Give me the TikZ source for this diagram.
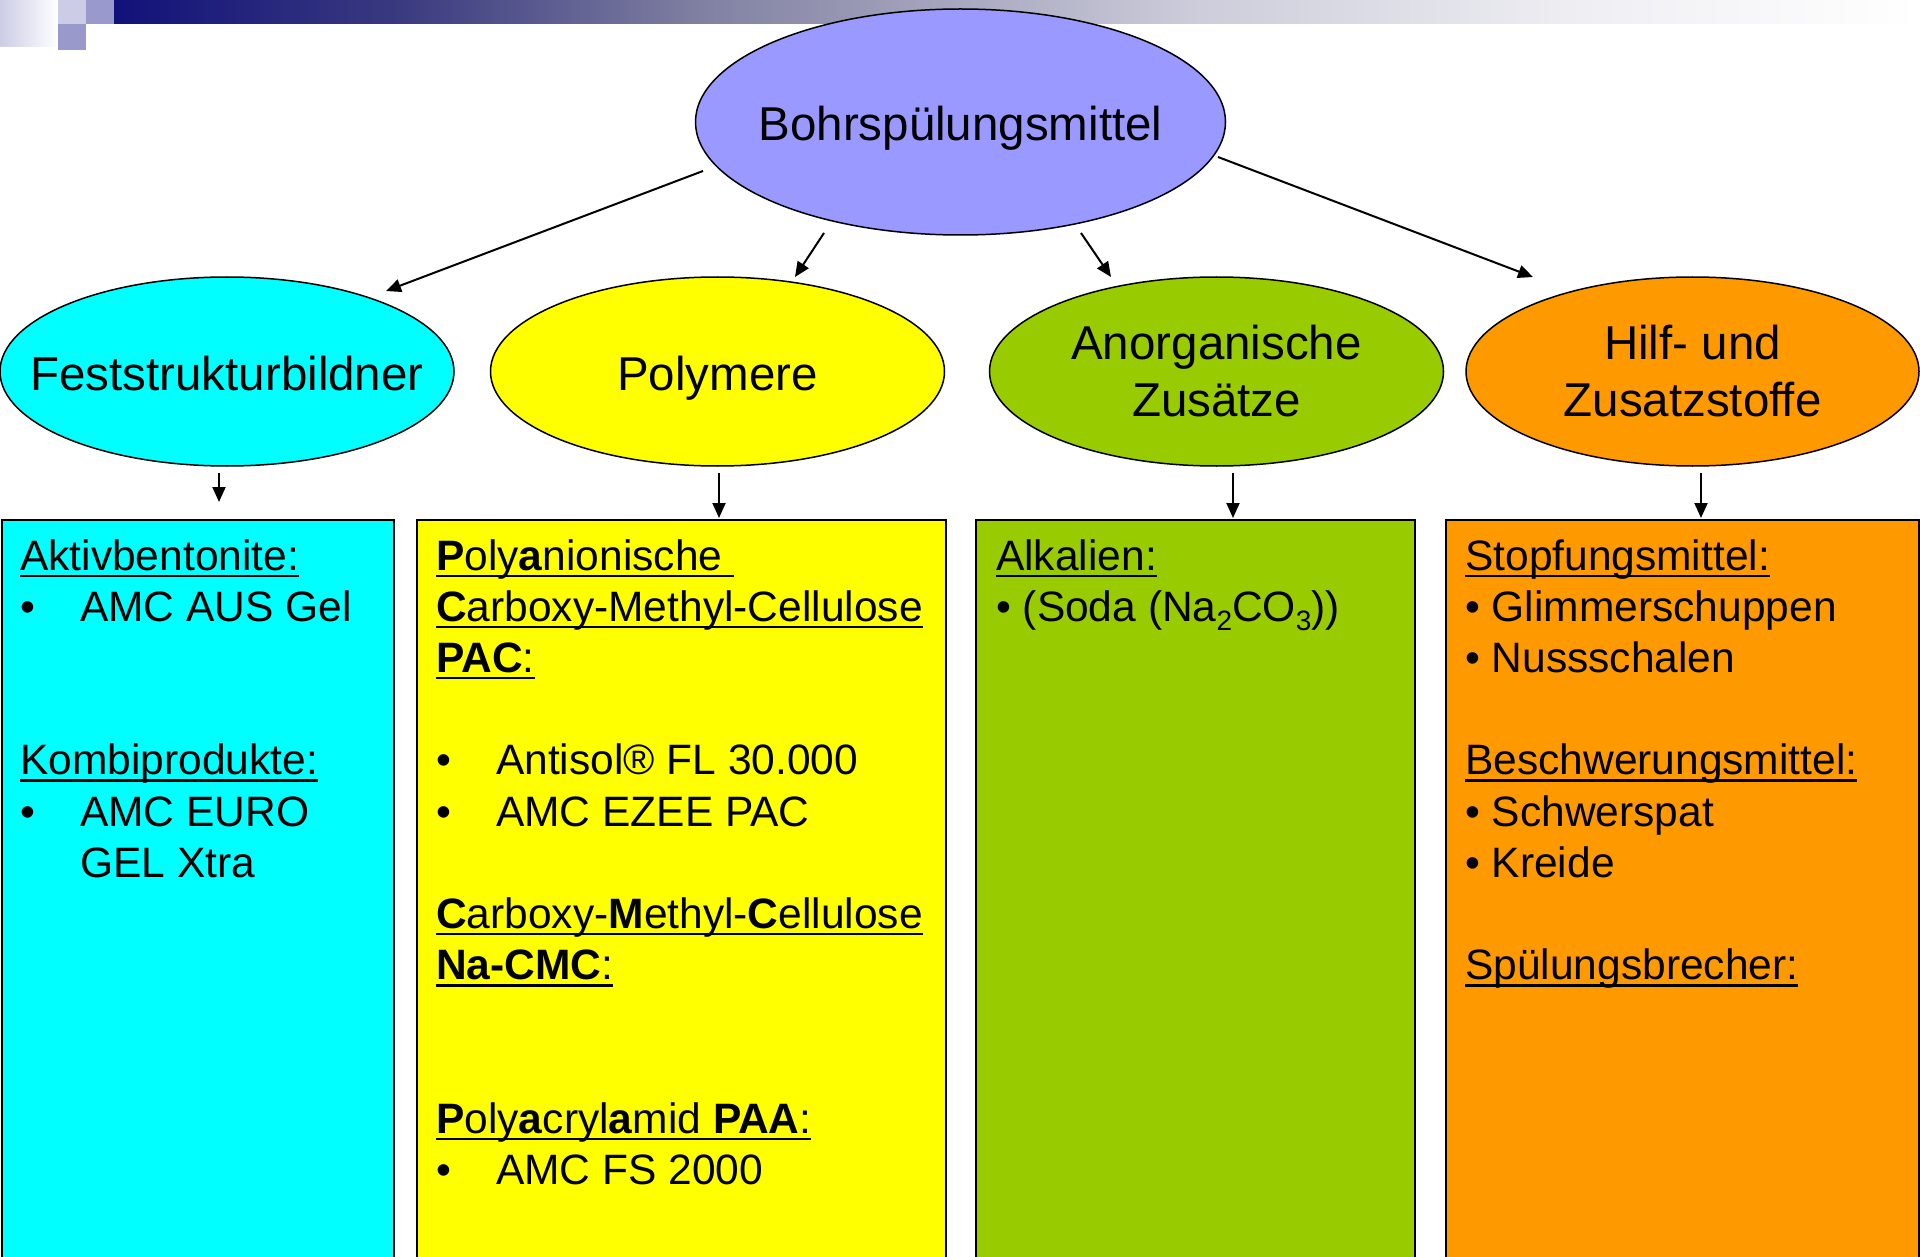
\documentclass[tikz,border=0pt]{standalone}
\usepackage{fontspec}
\setmainfont{Liberation Sans}
\usetikzlibrary{shapes.geometric,arrows.meta}
\definecolor{cTop}{RGB}{153,153,255}
\definecolor{cCyan}{RGB}{0,255,255}
\definecolor{cYel}{RGB}{255,255,0}
\definecolor{cGrn}{RGB}{153,204,0}
\definecolor{cOra}{RGB}{255,153,0}
\definecolor{cLav}{RGB}{204,204,230}
\definecolor{cMed}{RGB}{153,153,204}
\definecolor{gA}{RGB}{17,17,122}
\definecolor{gB}{RGB}{58,58,128}
\definecolor{gC}{RGB}{128,128,162}
\definecolor{gD}{RGB}{205,205,219}
\definecolor{gE}{RGB}{240,240,244}
\newsavebox\ulbox
\newcommand\myul[1]{\leavevmode\sbox\ulbox{#1}\rlap{\rule[-7pt]{\wd\ulbox}{2.5pt}}\usebox\ulbox}
\newcommand\subs[1]{\raisebox{-9.5pt}{\fontsize{28}{28}\selectfont #1}}
\newcommand\tabb{\leavevmode\makebox[60pt][l]{•}}
\newcommand\bul{•\ }
\newcommand\boxfont{\fontsize{42.5}{51.2}\selectfont}
\newcommand\zw[1]{\makebox[0pt][c]{#1}}
\tikzset{
  ell/.style={ellipse, draw, line width=1.5pt, inner sep=0pt, align=center,
    font=\fontsize{47.5}{57}\selectfont},
  oneline/.style={text height=37pt, text depth=0pt},
  colbox/.style={rectangle, draw, line width=2pt, anchor=north west, inner sep=0pt,
    minimum height=800pt},
  boxtxt/.style={anchor=base west, inner sep=0pt},
  arr/.style={line width=2pt, -{Triangle[length=15pt,width=13pt]}}
}
\begin{document}
\begin{tikzpicture}[x=1pt,y=-1pt]
\useasboundingbox (0,0) rectangle (1920,1257);
\clip (0,0) rectangle (1920,1257);
\fill[white] (0,0) rectangle (1920,1257);
% header decoration
\shade[left color=cLav, right color=white] (0,0) rectangle (58,47);
\fill[cLav] (58,0) rectangle (86,24);
\fill[cMed] (86,0) rectangle (114,24);
\fill[cMed] (58,24) rectangle (86,50);
\shade[left color=gA, right color=gB] (114,0) rectangle (400.5,24);
\shade[left color=gB, right color=gC] (400,0) rectangle (700.5,24);
\shade[left color=gC, right color=gD] (700,0) rectangle (1200.5,24);
\shade[left color=gD, right color=gE] (1200,0) rectangle (1600.5,24);
\shade[left color=gE, right color=white] (1600,0) rectangle (1920,24);
% boxes
\node[colbox, fill=cCyan, minimum width=392pt] (b1) at (1,519) {};
\node[colbox, fill=cYel, minimum width=529pt] (b2) at (416,519) {};
\node[colbox, fill=cGrn, minimum width=439pt] (b3) at (975,519) {};
\node[colbox, fill=cOra, minimum width=473pt] (b4) at (1445,519) {};
% box texts
\node[boxtxt] (t1) at (20,570) {\parbox[t]{380pt}{\boxfont
\myul{Aktivbentonite:}\par
\tabb AMC AUS Gel\par
\mbox{}\par
\mbox{}\par
\myul{Kombiprodukte:}\par
\tabb AMC EURO\par
\hspace*{60pt}GEL Xtra}};
\node[boxtxt] (t2) at (436,570) {\parbox[t]{520pt}{\boxfont
\myul{\textbf{P}oly\textbf{a}nionische\ }\par
\myul{\textbf{C}arboxy-Methyl-Cellulose}\par
\myul{\textbf{PAC}:}\par
\mbox{}\par
\tabb Antisol® FL 30.000\par
\tabb AMC EZEE PAC\par
\mbox{}\par
\myul{\textbf{C}arboxy-\textbf{M}ethyl-\textbf{C}ellulose}\par
\myul{\textbf{Na-CMC}:}\par
\mbox{}\par
\mbox{}\par
\myul{\textbf{P}oly\textbf{a}cryl\textbf{a}mid \textbf{PAA}:}\par
\tabb AMC FS 2000}};
\node[boxtxt] (t3) at (996,570) {\parbox[t]{420pt}{\boxfont
\myul{Alkalien:}\par
\bul(Soda (Na\subs{2}CO\subs{3}))}};
\node[boxtxt] (t4) at (1465,570) {\parbox[t]{450pt}{\boxfont
\myul{Stopfungsmittel:}\par
\bul Glimmerschuppen\par
\bul Nussschalen\par
\mbox{}\par
\myul{Beschwerungsmittel:}\par
\bul Schwerspat\par
\bul Kreide\par
\mbox{}\par
\myul{Spülungsbrecher:}}};
% ellipses
\node[ell, oneline, fill=cTop, minimum width=530pt, minimum height=226pt] (top) at (960.5,122) {\zw{Bohrspülungsmittel}};
\node[ell, oneline, fill=cCyan, minimum width=454pt, minimum height=189pt] (e1) at (227,371.5) {\zw{Feststrukturbildner}};
\node[ell, oneline, fill=cYel, minimum width=454pt, minimum height=189pt] (e2) at (717.5,371.5) {\zw{Polymere}};
\node[ell, fill=cGrn, minimum width=454pt, minimum height=189pt] (e3) at (1216.5,371.5) {\zw{Anorganische}\\\zw{Zusätze}};
\node[ell, fill=cOra, minimum width=453pt, minimum height=189pt] (e4) at (1692.5,371.5) {\zw{Hilf- und}\\\zw{Zusatzstoffe}};
% connector end points
\coordinate (s1) at (703,171);  \coordinate (f1) at (386,291);
\coordinate (s2) at (824,233);  \coordinate (f2) at (795,277);
\coordinate (s3) at (1081,233); \coordinate (f3) at (1111,277);
\coordinate (s4) at (1218,157); \coordinate (f4) at (1533,277);
\coordinate (d1) at (219,473);  \coordinate (g1) at (219,502);
\coordinate (d2) at (719,473);  \coordinate (g2) at (719,518);
\coordinate (d3) at (1233,473); \coordinate (g3) at (1233,518);
\coordinate (d4) at (1701,473); \coordinate (g4) at (1701,518);
\draw[arr] (s1) -- (f1);
\draw[arr] (s2) -- (f2);
\draw[arr] (s3) -- (f3);
\draw[arr] (s4) -- (f4);
\draw[arr] (d1) -- (g1);
\draw[arr] (d2) -- (g2);
\draw[arr] (d3) -- (g3);
\draw[arr] (d4) -- (g4);
\end{tikzpicture}
\end{document}
